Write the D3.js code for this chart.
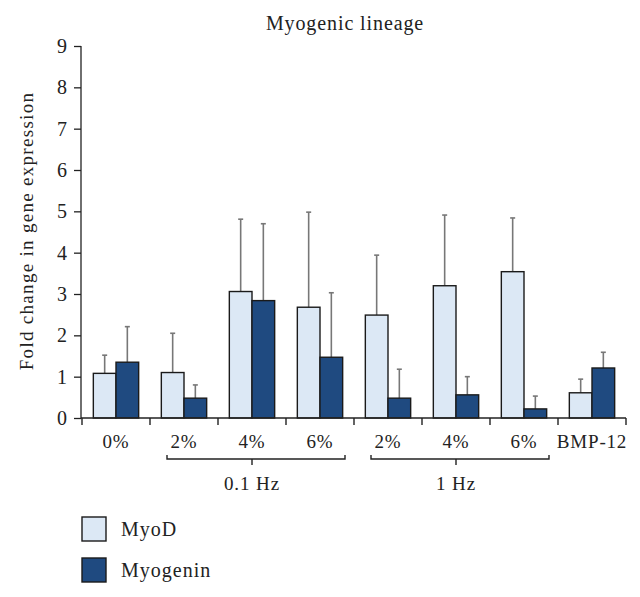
<!DOCTYPE html>
<html><head><meta charset="utf-8">
<script src="https://cdn.jsdelivr.net/npm/d3@7/dist/d3.min.js"></script>
<style>body{margin:0;background:#fff;} text{font-family:"Liberation Serif","DejaVu Serif",serif;fill:#222;}</style>
</head><body><svg id="c" width="640" height="597"></svg>
<script>
const categories = ["0%","2%","4%","6%","2%","4%","6%","BMP-12"];
const seriesNames = ["MyoD","Myogenin"];
const myoD = [1.08,1.10,3.06,2.68,2.49,3.20,3.54,0.61];
const myoDErr = [1.52,2.05,4.81,4.98,3.94,4.91,4.84,0.94];
const myogenin = [1.35,0.48,2.84,1.47,0.48,0.56,0.22,1.21];
const myogeninErr = [2.21,0.80,4.70,3.03,1.18,1.00,0.53,1.59];
const yTicks = [0,1,2,3,4,5,6,7,8,9];
const groups = [{label:"0.1 Hz",from:1,to:3},{label:"1 Hz",from:4,to:6}];
const colors = ["#dce8f5","#1f4a80"];

const svg = d3.select("#c");
const x = d3.scaleBand().domain(d3.range(categories.length)).range([82,626]).padding(0);
const xs = d3.scaleBand().domain([0,1]).range([0, x.bandwidth()]).paddingInner(0).paddingOuter(0.5);
const y = d3.scaleLinear().domain([0,9]).range([418,46]);

// title
svg.append("text").attr("x",345).attr("y",30).attr("text-anchor","middle").attr("font-size",20).attr("letter-spacing",0.9).text("Myogenic lineage");
// y label
svg.append("text").attr("transform","translate(33,231) rotate(-90)").attr("text-anchor","middle").attr("font-size",19).attr("letter-spacing",1.3).text("Fold change in gene expression");

// y axis
const ya = svg.append("g").attr("transform","translate(81,0)").call(d3.axisLeft(y).tickValues(yTicks).tickSize(7).tickPadding(7).tickFormat(d3.format("d")));
ya.selectAll("path,line").attr("stroke","#222").attr("stroke-width",1.3);
ya.select(".domain").attr("d","M0,"+y(9)+"V"+y(0));
ya.selectAll("text").attr("font-size",20).attr("font-family","Liberation Serif, serif").attr("fill","#222");

// bars
const data = categories.map((c,i)=>({i, vals:[myoD[i],myogenin[i]], errs:[myoDErr[i],myogeninErr[i]]}));
const g = svg.append("g");
data.forEach(d=>{
  [0,1].forEach(s=>{
    const bx = x(d.i)+xs(s), bw = xs.bandwidth(), cx = bx+bw/2;
    g.append("line").attr("x1",cx).attr("x2",cx).attr("y1",y(d.vals[s])).attr("y2",y(d.errs[s])).attr("stroke","#777").attr("stroke-width",1.6);
    g.append("line").attr("x1",cx-2.5).attr("x2",cx+2.5).attr("y1",y(d.errs[s])).attr("y2",y(d.errs[s])).attr("stroke","#777").attr("stroke-width",1.6);
    g.append("rect").attr("x",bx).attr("y",y(d.vals[s])).attr("width",bw).attr("height",y(0)-y(d.vals[s]))
      .attr("fill",colors[s]).attr("stroke","#1a1a1a").attr("stroke-width",1.4);
  });
});

// x axis
const xa = svg.append("g").attr("transform","translate(0,418)");
xa.append("line").attr("x1",81).attr("x2",626).attr("y1",0).attr("y2",0).attr("stroke","#222").attr("stroke-width",1.4);
d3.range(categories.length+1).forEach(k=>{
  const xx = k<categories.length ? x(k) : x(categories.length-1)+x.bandwidth();
  xa.append("line").attr("x1",xx).attr("x2",xx).attr("y1",0).attr("y2",7).attr("stroke","#222").attr("stroke-width",1.4);
});
categories.forEach((c,i)=>{
  xa.append("text").attr("x",x(i)+x.bandwidth()/2).attr("y",30).attr("text-anchor","middle").attr("font-size",19).attr("letter-spacing",0.8).text(c);
});

// group brackets
groups.forEach(gr=>{
  const x1 = x(gr.from)+17, x2 = x(gr.to)+x.bandwidth()-9, cx=(x(gr.from)+x(gr.to)+x.bandwidth())/2;
  const by = 459;
  svg.append("path").attr("d",`M${x1},${by-4}V${by}H${x2}V${by-4}M${cx},${by}V${by+6}`).attr("fill","none").attr("stroke","#222").attr("stroke-width",1.4);
  svg.append("text").attr("x",cx).attr("y",490).attr("text-anchor","middle").attr("font-size",19).attr("letter-spacing",0.9).text(gr.label);
});

// legend
seriesNames.forEach((n,i)=>{
  const ly = 517 + i*41;
  svg.append("rect").attr("x",82).attr("y",ly).attr("width",24).attr("height",24).attr("fill",colors[i]).attr("stroke","#1a1a1a").attr("stroke-width",1.4);
  svg.append("text").attr("x",121).attr("y",ly+19).attr("font-size",20).attr("letter-spacing",1).text(n);
});
</script></body></html>
